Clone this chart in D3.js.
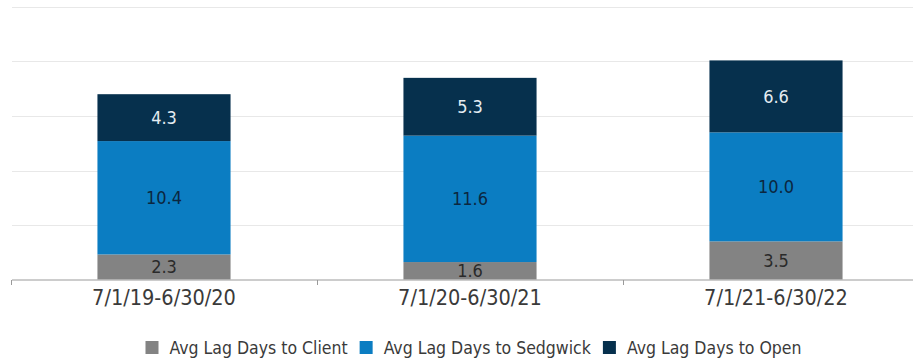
<!DOCTYPE html>
<html>
<head>
<meta charset="utf-8">
<script src="https://cdn.jsdelivr.net/npm/d3@7/dist/d3.min.js"></script>
<style>
  html, body { margin: 0; padding: 0; background: #fff; }
  svg { display: block; font-family: "DejaVu Sans Condensed", "DejaVu Sans", sans-serif; font-stretch: condensed; }
</style>
</head>
<body>
<svg id="chart" width="913" height="361"></svg>
<script>
// Reporting periods and the three lag components (days)
const periods = ["7/1/19-6/30/20", "7/1/20-6/30/21", "7/1/21-6/30/22"];
const lagToClient = [2.3, 1.6, 3.5];
const lagToSedgwick = [10.4, 11.6, 10.0];
const lagToOpen = [4.3, 5.3, 6.6];
const seriesNames = ["Avg Lag Days to Client", "Avg Lag Days to Sedgwick", "Avg Lag Days to Open"];
const yTicks = [0, 5, 10, 15, 20, 25];

const colors = ["#838383", "#0b7dc2", "#06304d"];
const labelColors = ["#2a2a2a", "#0b2740", "#e4ecf2"];

const svg = d3.select("#chart");
const W = 913;

const x = d3.scaleBand().domain(periods).range([11, 929]).padding(0);
const y = d3.scaleLinear().domain([0, 25]).range([279.5, 7]);
const barW = x.bandwidth() * 0.435;

// Horizontal gridlines
svg.append("g").selectAll("line").data(yTicks.slice(1)).join("line")
  .attr("x1", 12).attr("x2", W)
  .attr("y1", d => Math.round(y(d)) + 0.5).attr("y2", d => Math.round(y(d)) + 0.5)
  .attr("stroke", "#e8e8e8").attr("stroke-width", 1);

// Stack the components
const rows = periods.map((p, i) => ({ period: p, client: lagToClient[i], sedgwick: lagToSedgwick[i], open: lagToOpen[i] }));
const keys = ["client", "sedgwick", "open"];
const stacked = d3.stack().keys(keys)(rows);

const layers = svg.append("g").selectAll("g").data(stacked).join("g")
  .attr("fill", (d, i) => colors[i]);

layers.selectAll("rect").data(d => d).join("rect")
  .attr("x", d => x(d.data.period) + (x.bandwidth() - barW) / 2)
  .attr("width", barW)
  .attr("y", d => y(d[1]))
  .attr("height", d => y(d[0]) - y(d[1]));

// Value labels centred in each segment
stacked.forEach((layer, li) => {
  svg.append("g").selectAll("text").data(layer).join("text")
    .attr("x", d => x(d.data.period) + x.bandwidth() / 2)
    .attr("y", d => (y(d[0]) + y(d[1])) / 2)
    .attr("dy", "0.36em")
    .attr("text-anchor", "middle")
    .attr("font-size", 18)
    .attr("fill", labelColors[li])
    .text(d => d3.format(".1f")(d.data[keys[li]]));
});

// Category axis: baseline, boundary ticks, period labels
const axis = svg.append("g");
axis.append("line")
  .attr("x1", 12).attr("x2", W)
  .attr("y1", 280).attr("y2", 280)
  .attr("stroke", "#9a9a9a").attr("stroke-width", 1);
const bounds = periods.map(p => x(p)).concat([x.range()[1]]);
axis.selectAll("line.tick").data(bounds).join("line")
  .attr("class", "tick")
  .attr("x1", d => Math.round(d) + 0.5).attr("x2", d => Math.round(d) + 0.5)
  .attr("y1", 280).attr("y2", 285)
  .attr("stroke", "#9a9a9a");
axis.selectAll("text").data(periods).join("text")
  .attr("x", d => x(d) + x.bandwidth() / 2)
  .attr("y", 305)
  .attr("text-anchor", "middle")
  .attr("font-size", 21.5)
  .attr("fill", "#3a3a3a")
  .text(d => d);

// Legend
const legend = svg.append("g");
const items = legend.selectAll("g").data(seriesNames).join("g");
items.append("rect")
  .attr("width", 13).attr("height", 13)
  .attr("y", 341)
  .attr("fill", (d, i) => colors[i]);
items.append("text")
  .attr("x", 24).attr("y", 354)
  .attr("font-size", 17.5)
  .attr("fill", "#3a3a3a")
  .text(d => d);
const widths = [];
items.each(function () {
  widths.push(24 + this.querySelector("text").getComputedTextLength());
});
const gap = 12;
const total = d3.sum(widths) + gap * (widths.length - 1);
let cx = 473.5 - total / 2;
items.attr("transform", (d, i) => {
  const t = `translate(${cx},0)`;
  cx += widths[i] + gap;
  return t;
});
</script>
</body>
</html>
